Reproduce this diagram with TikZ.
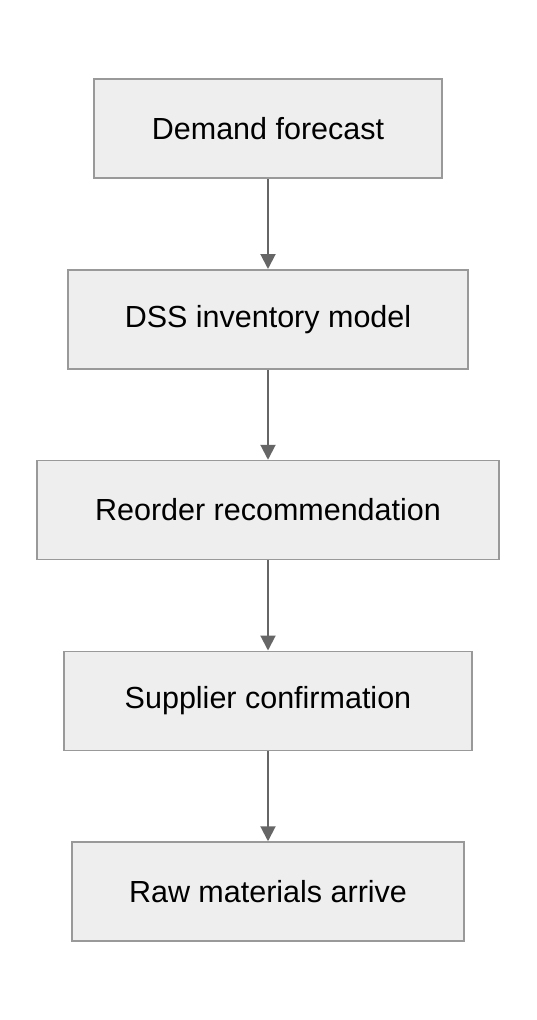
\documentclass[tikz,border=0pt]{standalone}
\usepackage{fontspec}
\setmainfont{Liberation Sans}
\usetikzlibrary{arrows.meta}
\definecolor{boxfill}{HTML}{EEEEEE}
\definecolor{boxline}{HTML}{999999}
\definecolor{arrowcol}{HTML}{666666}
\begin{document}
\begin{tikzpicture}[x=1pt,y=-1pt,
  stepbox/.style={draw=boxline, fill=boxfill, line width=1.5pt, minimum height=99pt, inner sep=0pt,
    font=\fontsize{30.5}{34}\selectfont, text=black},
  flow/.style={draw=arrowcol, line width=2pt, -{Triangle[length=15pt,width=15pt]}}]
\useasboundingbox (0,0) rectangle (536,1020);
\node[stepbox, minimum width=348pt] (a) at (268,128.5) {Demand forecast};
\node[stepbox, minimum width=400pt] (b) at (268,319.25) {DSS inventory model};
\node[stepbox, minimum width=462pt] (c) at (268,510) {Reorder recommendation};
\node[stepbox, minimum width=408pt] (d) at (268,700.75) {Supplier confirmation};
\node[stepbox, minimum width=392pt] (e) at (268,891.5) {Raw materials arrive};
\draw[flow] (a) -- (b);
\draw[flow] (b) -- (c);
\draw[flow] (c) -- (d);
\draw[flow] (d) -- (e);
\end{tikzpicture}
\end{document}
